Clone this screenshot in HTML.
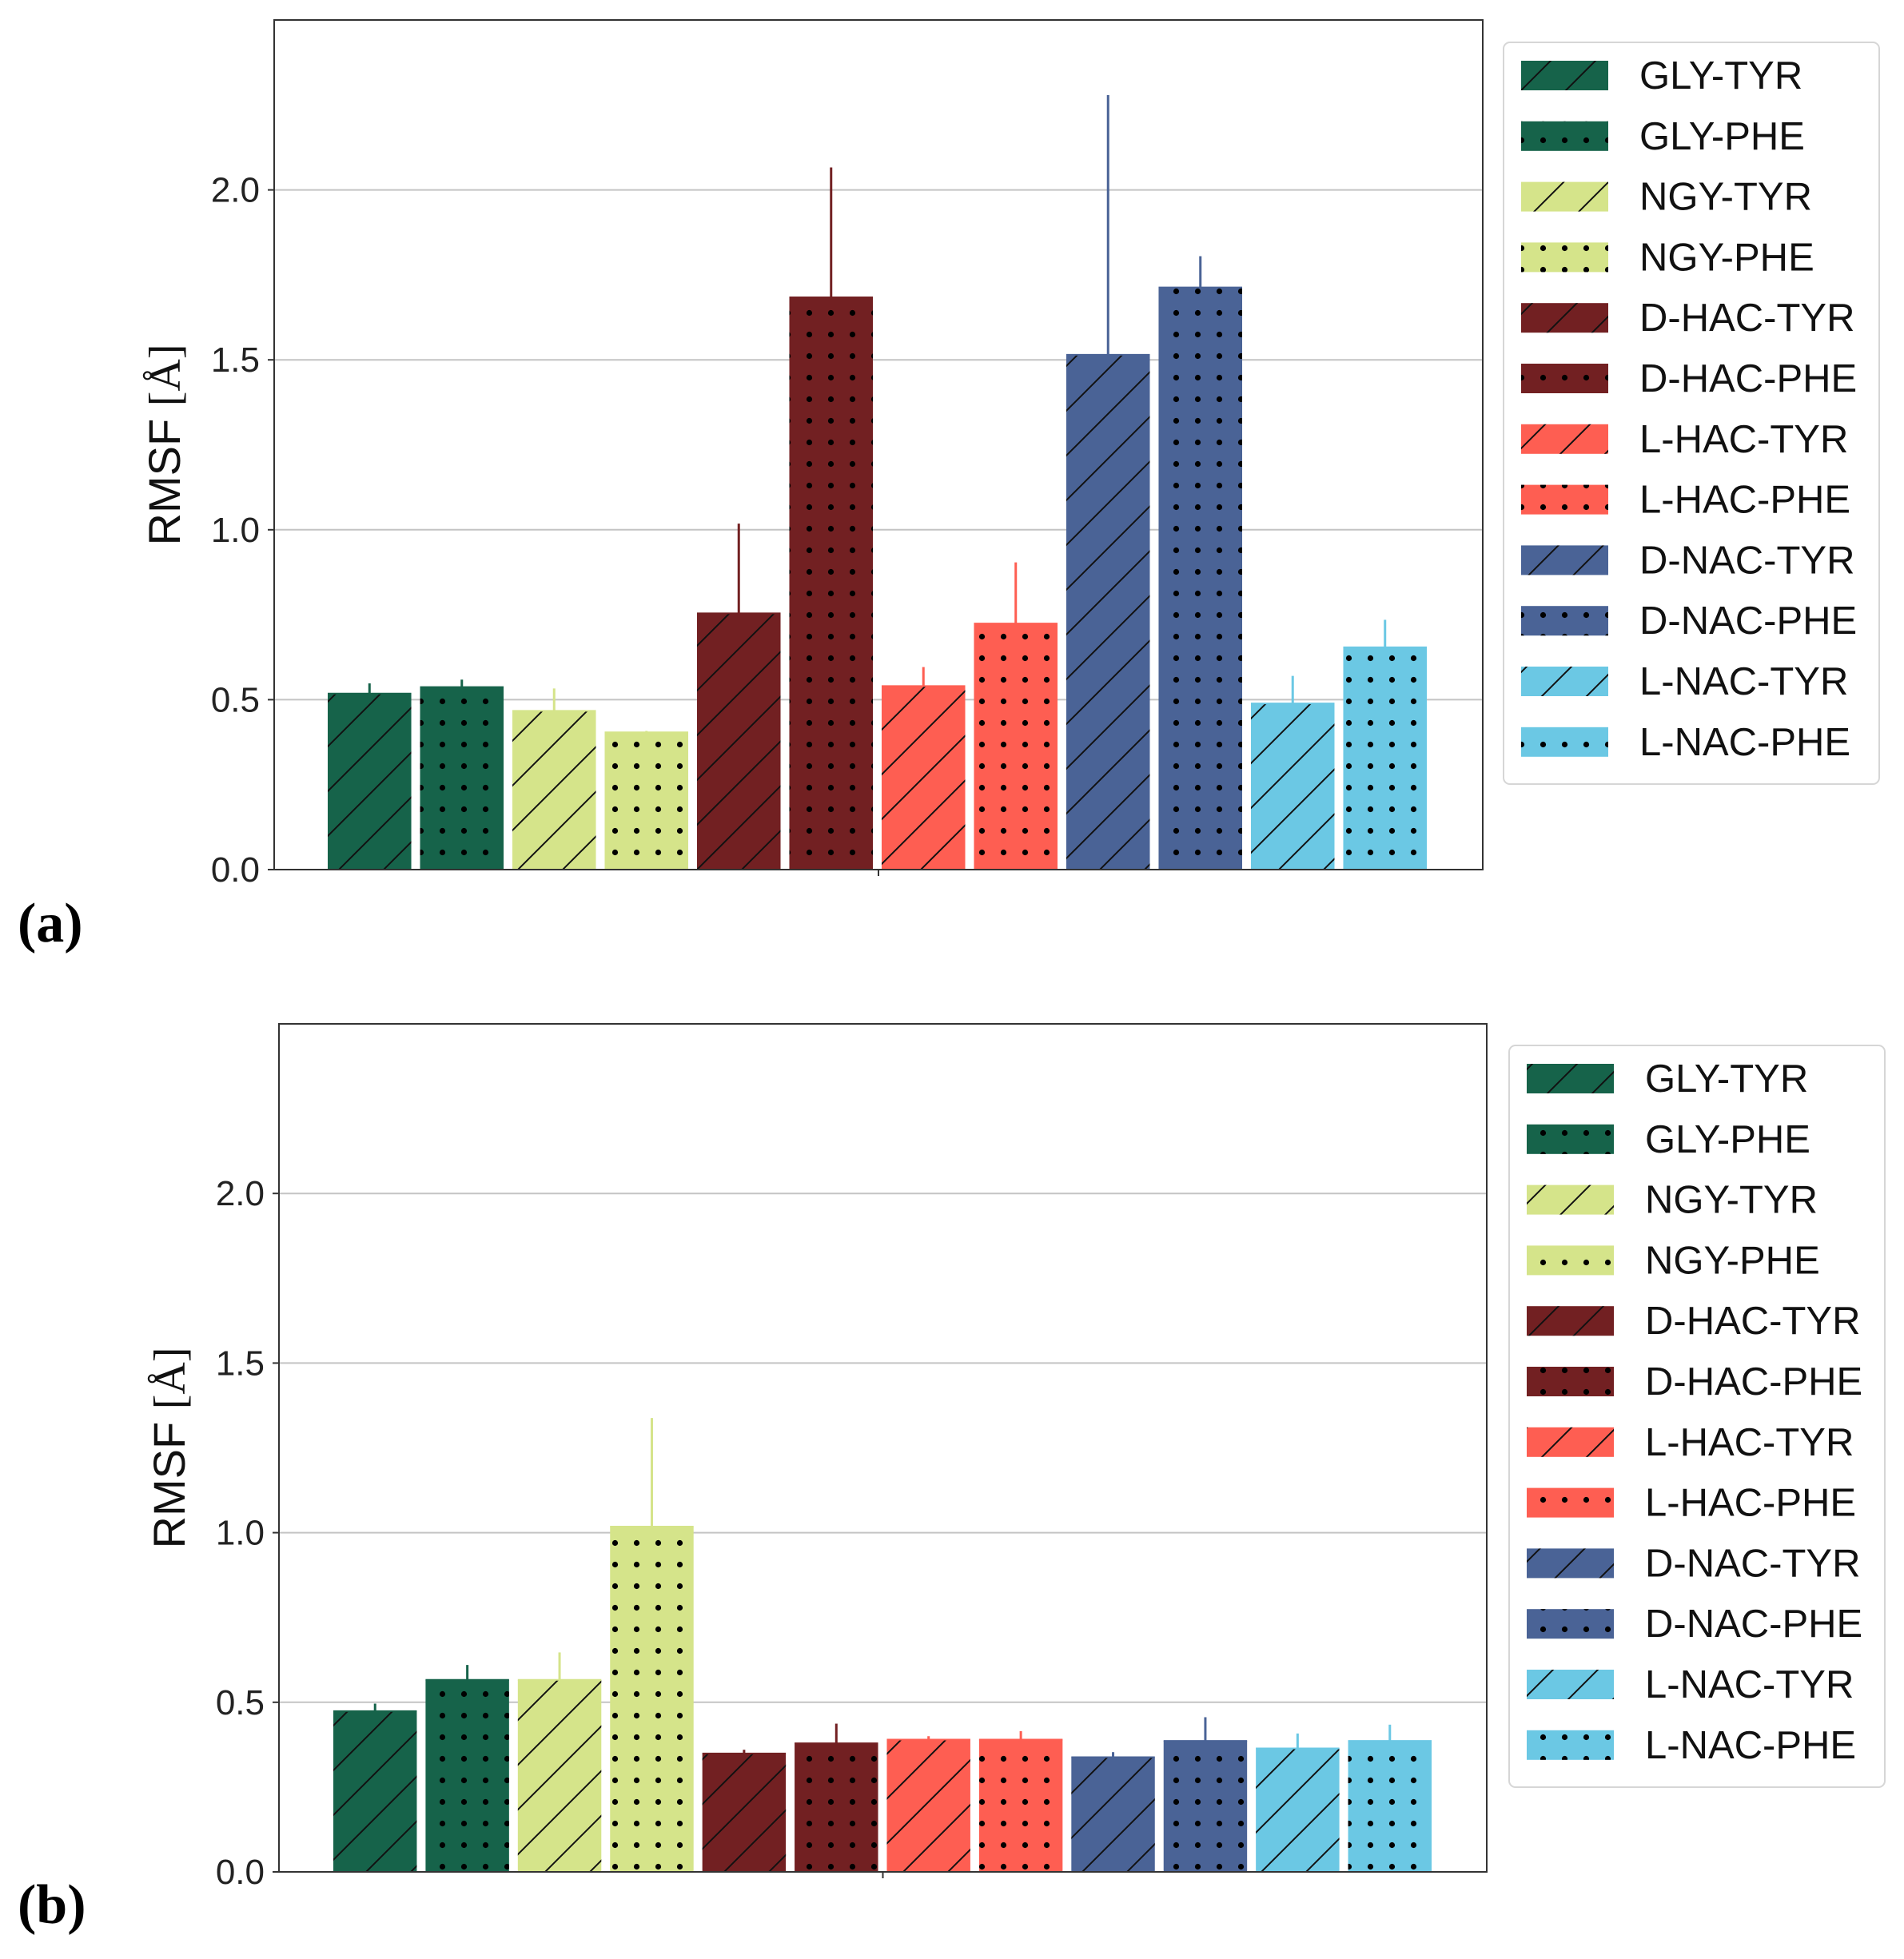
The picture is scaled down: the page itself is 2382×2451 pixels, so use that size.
<!DOCTYPE html>
<html><head><meta charset="utf-8"><style>
html,body{margin:0;padding:0;background:#fff;}
svg{display:block;}
</style></head><body>
<svg id="fig" xmlns="http://www.w3.org/2000/svg" width="2382" height="2451" viewBox="0 0 2382 2451">
<defs id="defs"></defs>
</svg>
<script>
const categories = ["GLY-TYR","GLY-PHE","NGY-TYR","NGY-PHE","D-HAC-TYR","D-HAC-PHE","L-HAC-TYR","L-HAC-PHE","D-NAC-TYR","D-NAC-PHE","L-NAC-TYR","L-NAC-PHE"];
const valuesA = [0.518,0.537,0.467,0.404,0.754,1.684,0.540,0.724,1.515,1.713,0.489,0.654];
const errTopA = [0.548,0.559,0.533,0.408,1.018,2.066,0.596,0.904,2.279,1.805,0.570,0.735];
const valuesB = [0.474,0.566,0.566,1.018,0.349,0.379,0.390,0.390,0.338,0.386,0.364,0.386];
const errTopB = [0.496,0.610,0.647,1.338,0.360,0.437,0.400,0.415,0.353,0.456,0.408,0.434];
const yTicks = [0.0,0.5,1.0,1.5,2.0];
const yMax = 2.5;

const colors = ["#16634a","#16634a","#d5e48a","#d5e48a","#722022","#722022","#fe5e52","#fe5e52","#4a6396","#4a6396","#6bc8e4","#6bc8e4"];
const NS = "http://www.w3.org/2000/svg";
const svg = document.getElementById('fig');
const defs = document.getElementById('defs');
function mk(tag, attrs, parent){const e=document.createElementNS(NS,tag);for(const k in attrs)e.setAttribute(k,attrs[k]);(parent||svg).appendChild(e);return e;}

const hatch = mk('pattern',{id:'hatch',patternUnits:'userSpaceOnUse',width:56,height:56},defs);
mk('path',{d:'M-14,14 L14,-14 M0,56 L56,0 M42,70 L70,42',stroke:'#111','stroke-width':2},hatch);
const dots = mk('pattern',{id:'dots',patternUnits:'userSpaceOnUse',width:27,height:27},defs);
mk('circle',{cx:13.5,cy:13.5,r:3.6,fill:'#000'},dots);

function panel(cfg, values, errTop, prefix){
  const {L,R,T,B} = cfg;
  const yS = v => B - v/yMax*(B-T);
  const g = mk('g',{});
  
  
  yTicks.forEach(t=>{
    const y=yS(t);
    const gl=mk('line',{x1:L,x2:R,y1:y,y2:y,stroke:'#c4c4c4','stroke-width':2},g);
    
    
    mk('line',{x1:L-8,x2:L,y1:y,y2:y,stroke:'#333','stroke-width':2},g);
    const tx=mk('text',{x:L-18,y:y+15,'text-anchor':'end','font-family':'"Liberation Sans",sans-serif','font-size':44,fill:'#222'},g);
    tx.textContent=t.toFixed(1);
    
    
  });
  const n=categories.length;
  const frac=0.905;
  const slot=(cfg.bR-cfg.bL)/(n-1+frac), bw=slot*frac;
  values.forEach((v,i)=>{
    const x=cfg.bL+i*slot;
    const y=yS(v);
    const c=colors[i];
    const el=mk('line',{x1:x+bw/2,x2:x+bw/2,y1:yS(errTop[i]),y2:y,stroke:c,'stroke-width':3},g);
    
    
    const r=mk('rect',{x:x,y:y,width:bw,height:B-y,fill:c},g);
    
    
    mk('rect',{x:x,y:y,width:bw,height:B-y,fill:i%2?'url(#dots)':'url(#hatch)'},g);
    mk('line',{x1:x,x2:x+bw,y1:y,y2:y,stroke:c,'stroke-width':2},g);
  });
  const fr=mk('rect',{x:L,y:T,width:R-L,height:B-T,fill:'none',stroke:'#333','stroke-width':2},g);
  
  
  mk('line',{x1:(L+R)/2,x2:(L+R)/2,y1:B,y2:B+8,stroke:'#333','stroke-width':2},g);
  const yl=mk('text',{transform:`translate(${L-118},${yS(1.25)}) rotate(-90)`,'text-anchor':'middle','font-family':'"Liberation Sans",sans-serif','font-size':56,fill:'#111'},g);
  yl.innerHTML='RMSF <tspan font-family="\'Liberation Serif\',serif">[Å]</tspan>';
  
  
  const pl=mk('text',{x:22,y:cfg.labY,'font-family':'"Liberation Serif",serif','font-size':70,'font-weight':'bold',fill:'#000'},g);
  pl.textContent='('+prefix.slice(-1)+')';
  
  
  const lg=mk('g',{},g);
  
  
  mk('rect',{x:cfg.lx,y:cfg.ly,width:470,height:928,rx:8,fill:'#fff',stroke:'#d6d6d6','stroke-width':2},lg);
  categories.forEach((cat,i)=>{
    const cy=cfg.ly+41+i*75.8;
    const e=mk('g',{},lg);
    
    
    mk('rect',{x:cfg.lx+22,y:cy-18,width:109,height:37,fill:colors[i]},e);
    mk('rect',{x:cfg.lx+22,y:cy-18,width:109,height:37,fill:i%2?'url(#dots)':'url(#hatch)'},e);
    const t=mk('text',{x:cfg.lx+170,y:cy+17,'font-family':'"Liberation Sans",sans-serif','font-size':49,fill:'#111'},e);
    t.textContent=cat;
  });
}
panel({L:343,R:1855,T:25,B:1088,bL:410,bR:1785,lx:1881,ly:53,labY:1178},valuesA,errTopA,'panel-a');
panel({L:349,R:1860,T:1281,B:2342,bL:417,bR:1791,lx:1888,ly:1308,labY:2406},valuesB,errTopB,'panel-b');
</script>
</body></html>
